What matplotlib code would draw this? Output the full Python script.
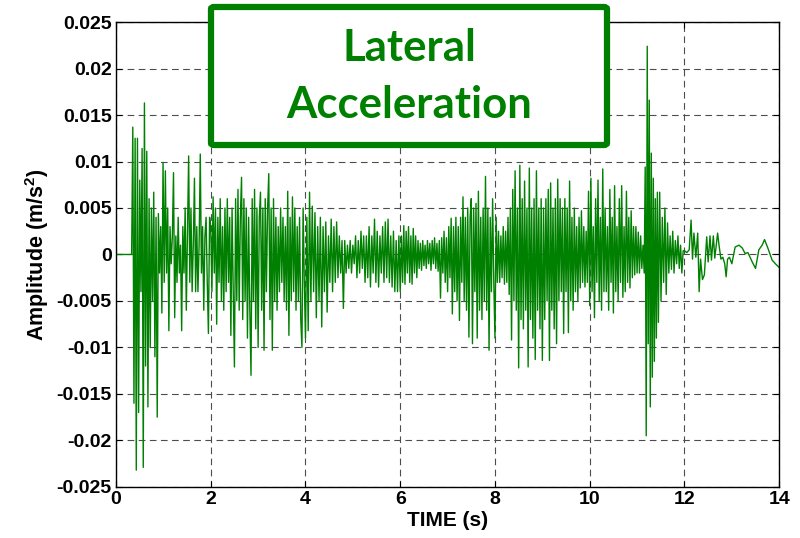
import numpy as np
import matplotlib
matplotlib.use('Agg')
import matplotlib.pyplot as plt
from matplotlib.patches import FancyBboxPatch

# signal, in units of 0.001 m/s^2, segment by segment
# each segment: (start time, end time, values spread evenly over it)
seg_quiet = (0.0, 0.33, [0, 0])

seg_start = (0.33, 2.0, [
    0, 13.7, -16, 12.5, -23.2, 12.5, -17, 8, -4, 11.4, -22.9, 16.3, -12, 11.1, -16.4, 6, -10, 5,
    -5, 6.7, -11, 4, -17.5, 4.4, -2, 3, -6.3, 9.9, -3, 9, -2, 5, -8.2, 3, -1, 2, 8.8, -6.8,
    2, -3, 4, -2, 1, -8.2, 3, -2, 5, -6, 2, 10.6, -3, 5, -4, 1, 8.2, -4, 3, -4, 1, 10.8,
    -2, 3, -6, 2, 4, -3, -8.5, 4])

seg_2_4 = (2.0, 4.0, [
    3, -4, 6.2, -2, 5, -7.5, 4, -3, 6, -5,
    3, -6, 5, -4, 6, -3, 4, -8.7, 5, -4,
    -12.1, 6, -5, 7, -6, 4, 8.3, -7, 6, -5,
    5, -9, 4, -6, -13, 6, -5, 7, -8, 5,
    -10, 4, 6.7, -6, 5, -10.3, 6, -4, 5, 8.7,
    -7, 5, -10.3, 6, -5, 4, -6, 3, -4, 5,
    -3, 4, -5, 3, -6, 6.8, -8.7, 4, -5, 6.2,
    -4, 5, -6, 3, -5, 4, -7, -10, 5, -3])

seg_4_6 = (4.0, 6.0, [
    -9, 4, -8.2, 6.7, -5, 5.2, -4, 4.5, -6.8, 3,
    -5, 4, -7.8, 3, -4, 3.5, -6.2, 2, -3, 3.8,
    -4, 3, -3, 3.5, -2.5, 2, -2, 1.5, -5.8, 1.5,
    -2, 1, -1.5, 1.5, -2, 1, -1, 2, -2.5, 1.5,
    -2, 2.5, -1.5, 2, -3, 2, -2.5, 3, -3.5, 2,
    -2, 3.8, -3, 2.5, -3.5, 2, -2, 3, -3, 3.5,
    -2.5, 3.8, -3, 2, -3.5, 2.5, -4, 1.5, -4, 2])

seg_6_8 = (6.0, 8.0, [
    -4, 2, -3, 3.1, -3.2, 2.5, -2, 3, -3, 2,
    -3.2, 2.8, -2, 2, -2.5, 1.5, -1.5, 1.2, -1.7, 1.5,
    -1.2, 1, -1.5, 1.5, -1, 1.2, -1.7, 1.5, -1, 1.8,
    -1.5, 1.2, -1.8, 1.5, -4.7, 1.8, -2, 2.5, -3, 1.8,
    -4, 3, -2.5, 3.9, -6.4, 3, -4, 4, -5, 3,
    -7.1, 4, -3, 6.2, -5, 4, -6, 5, -8.9, 4,
    6, -9.6, 5, -4, 5.5, -9, 6.8, -6, 4, -7,
    5, -5, 8.4, -6, 5, -10.3, 4, -4, 6, -3])

seg_8_10 = (8.0, 10.0, [
    -9, 4, -3, 2.5, -3, 2, -2.5, 3, -3.2, 2.5,
    -3, 4, -4.3, 5, -9.2, 7, -5, 9.0, -6, 5,
    -12.2, 9.6, -7, 6, -8, 7.9, -6, 5, -12.1, 9.3,
    -7, 5, -9, 6, -11.3, 9.0, -6, 5, -8, 6,
    -11.4, 5, -7, 6, -5, 7, -11.4, 7.7, -6, 5,
    -8, 6, -9.6, 8.1, -5, 6, -4, 5, -8.5, 6,
    -4, 5, -8.4, 7.9, -5, 4, -6, 5, -4, 3,
    -5, 4, -3.6, 4.7, -3, 3, -3.5, 2.5, -3, 6.8])

seg_10_11 = (10.0, 11.15, [
    -5.5, 8.2, -4, 3, -6.8, 6, -3, 8, -5, 4,
    -6, 9.2, -4, 5, -4, 3, -6, 7, -3, 4,
    -6.3, 7.4, -4, 3, -5, 6, -3, 7.4, -4.6, 3,
    -4, 6.8, -3, 4, -3.6, 4.7, -2.5, 3, -2.2, 3,
    -2, 2.4, -2, 2, -1.5, 1])

seg_spike = (11.15, 11.45, [
    -2, 9.4, -19.5, 22.4, -9.6, 16.6, -16.4, 10.9, -13.2, 8.2, -11.5, 6, -9, 6.7])

seg_11_12 = (11.45, 12.0, [
    -7.3, 6.7, -5, 4, -3.0, 5, -4.3, 3.4, -2, 2,
    -1.6, 2.5, -2, 1.5, -1, 2, -1.5, 1, -2, 0.4])

# tail is slow, so keep its own times
tail_t = [12.0, 12.05, 12.1, 12.14, 12.17, 12.2, 12.24, 12.28, 12.31, 12.34, 12.38, 12.42,
          12.47, 12.5, 12.54, 12.57, 12.61, 12.64, 12.7, 12.73, 12.77, 12.81, 12.85, 12.88,
          12.91, 12.95, 13.0, 13.07, 13.15, 13.22, 13.28, 13.34, 13.43, 13.5, 13.57, 13.64,
          13.69, 13.76, 13.85, 13.92, 14.0]
tail_v = [0.4, 0.2, 0.5, 3.7, -0.5, 2.3, -0.3, 2.3, -4.0, -0.5, -2.7, -2.2,
          1.9, -0.8, 2.0, -0.6, 2.0, -0.4, 2.3, 1.0, -0.5, -0.3, -1.0, -2.4,
          -0.5, -0.3, -1.0, 0.8, 1.0, 0.7, 0.1, 0.2, -0.8, -1.5, 0.5, 1.0,
          1.6, 0.7, -0.6, -1.0, -1.4]

segments = [seg_quiet, seg_start, seg_2_4, seg_4_6, seg_6_8, seg_8_10,
            seg_10_11, seg_spike, seg_11_12]

x_ticks = [0, 2, 4, 6, 8, 10, 12, 14]
y_ticks = [-0.025, -0.02, -0.015, -0.01, -0.005, 0, 0.005, 0.01, 0.015, 0.02, 0.025]
y_tick_labels = ['-0.025', '-0.02', '-0.015', '-0.01', '-0.005', '0',
                 '0.005', '0.01', '0.015', '0.02', '0.025']

t_parts, v_parts = [], []
for t0, t1, vals in segments:
    t_parts.append(np.linspace(t0, t1, len(vals), endpoint=False))
    v_parts.append(np.array(vals, dtype=float))
t_parts.append(np.array(tail_t))
v_parts.append(np.array(tail_v))
t = np.concatenate(t_parts)
v = np.concatenate(v_parts) * 1e-3

green = '#008000'
lab_font = ['Liberation Sans', 'DejaVu Sans']
plt.rcParams['mathtext.fontset'] = 'custom'
plt.rcParams['mathtext.bf'] = 'Liberation Sans:bold'
plt.rcParams['mathtext.rm'] = 'Liberation Sans:bold'

fig = plt.figure(figsize=(8, 5.38), dpi=100)
ax = fig.add_axes([0.145, 0.095, 0.829, 0.864])

ax.plot(t, v, color=green, lw=1.0)

ax.set_xlim(0, 14)
ax.set_ylim(-0.025, 0.025)
ax.set_xticks(x_ticks)
ax.set_yticks(y_ticks)
ax.set_yticklabels(y_tick_labels)
ax.grid(True, color='0.3', linestyle=(0, (6, 4)), lw=0.8)
ax.tick_params(direction='in', length=4, top=True, right=True, pad=3)
for lab in ax.get_xticklabels() + ax.get_yticklabels():
    lab.set_family(lab_font)
    lab.set_fontweight('bold')
    lab.set_fontsize(14)
for s in ax.spines.values():
    s.set_color('black')
    s.set_linewidth(1.0)

ax.set_xlabel('TIME (s)', family=lab_font, fontweight='bold', fontsize=15, labelpad=2)
ax.set_ylabel(r'Amplitude (m/s$^{\mathbf{2}}$)', family=lab_font, fontweight='bold',
              fontsize=15.5, labelpad=4)

# title box sitting over the top of the plot
box = FancyBboxPatch((211 / 800, 1 - 145 / 538), 396 / 800, 138 / 538,
                     boxstyle='round,pad=0,rounding_size=0.004',
                     transform=fig.transFigure, facecolor='white',
                     edgecolor=green, lw=4.5, zorder=5)
fig.add_artist(box)
fig.text(409 / 800, 1 - 48 / 538, 'Lateral', color=green, family=['Lato', 'DejaVu Sans'],
         fontweight='bold', fontsize=31.5, ha='center', va='center', zorder=6)
fig.text(409 / 800, 1 - 105 / 538, 'Acceleration', color=green, family=['Lato', 'DejaVu Sans'],
         fontweight='bold', fontsize=31.5, ha='center', va='center', zorder=6)

fig.savefig('out.png', dpi=100)
